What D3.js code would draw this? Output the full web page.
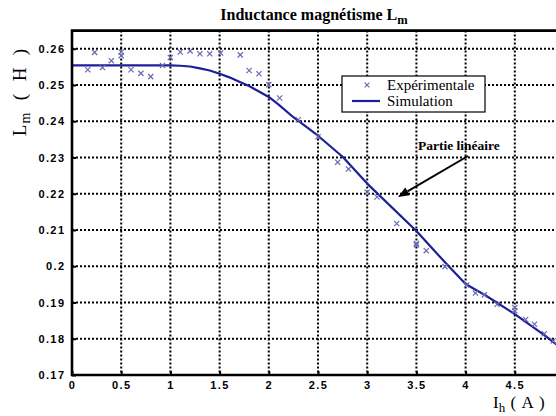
<!DOCTYPE html>
<html>
<head>
<meta charset="utf-8">
<script src="https://cdn.jsdelivr.net/npm/d3@7"></script>
<style>
  html, body { margin: 0; padding: 0; background: #fff; overflow: hidden; }
  svg { display: block; }
</style>
</head>
<body>
<svg id="chart" width="556" height="416"></svg>
<script>
// ---- data ----
const xTicks = [0, 0.5, 1, 1.5, 2, 2.5, 3, 3.5, 4, 4.5, 5];
const xTickLabels = ["0", "0.5", "1", "1.5", "2", "2.5", "3", "3.5", "4", "4.5", "5"];
const yTicks = [0.17, 0.18, 0.19, 0.20, 0.21, 0.22, 0.23, 0.24, 0.25, 0.26];
const yTickLabels = ["0.17", "0.18", "0.19", "0.2", "0.21", "0.22", "0.23", "0.24", "0.25", "0.26"];

const simX = [0, 0.5, 1.0, 1.1, 1.2, 1.3, 1.4, 1.5, 1.6, 1.7, 1.8, 1.9, 2.0, 2.1, 2.25, 2.5, 2.75, 3.0, 3.5, 3.8, 4.0, 4.2, 4.5, 4.8, 5.0];
const simY = [0.2554, 0.2554, 0.2554, 0.2553, 0.2551, 0.2546, 0.2540, 0.2531, 0.2521, 0.2509, 0.2497, 0.2482, 0.2467, 0.2446, 0.2411, 0.2360, 0.2302, 0.2228, 0.2097, 0.2008, 0.1951, 0.1920, 0.1868, 0.1810, 0.1768];

const expX = [0.16, 0.23, 0.31, 0.40, 0.50, 0.50, 0.60, 0.70, 0.80, 0.92, 1.00, 1.10, 1.20, 1.30, 1.40, 1.51, 1.71, 1.80, 1.90, 2.00, 2.11, 2.30, 2.50, 2.70, 2.81, 3.00, 3.10, 3.30, 3.50, 3.50, 3.60, 3.79, 4.01, 4.10, 4.19, 4.32, 4.50, 4.50, 4.61, 4.70, 4.80, 4.89];
const expY = [0.2542, 0.2590, 0.2548, 0.2567, 0.2591, 0.2581, 0.2542, 0.2532, 0.2523, 0.2554, 0.2576, 0.2591, 0.2594, 0.2586, 0.2586, 0.2588, 0.2583, 0.2540, 0.2531, 0.2501, 0.2464, 0.2404, 0.2357, 0.2287, 0.2268, 0.2204, 0.2191, 0.2118, 0.2063, 0.2059, 0.2043, 0.1999, 0.1948, 0.1926, 0.1921, 0.1895, 0.1886, 0.1877, 0.1853, 0.1840, 0.1814, 0.1794];

const legendLabels = ["Expérimentale", "Simulation"];
const annotationText = "Partie linéaire";

// ---- layout ----
const svg = d3.select("#chart");
const L = 72, R = 564, T = 30.6, B = 375;
const x = d3.scaleLinear().domain([0, 5]).range([L, R]);
const y = d3.scaleLinear().domain([0.17, 0.265]).range([B, T]);

const lineColor = "#1e1e9a";
const markColor = "#6a6ab4";
const serif = "'Liberation Serif', 'Times New Roman', serif";
const sans = "'Liberation Sans', Arial, sans-serif";

svg.append("defs").append("clipPath").attr("id", "plotclip")
  .append("rect").attr("x", L).attr("y", T).attr("width", R - L).attr("height", B - T);

// grid
const grid = svg.append("g").attr("stroke", "#000").attr("stroke-width", 2)
  .attr("stroke-dasharray", "2,2");
grid.selectAll("line.vg").data(xTicks.filter(d => d > 0)).join("line")
  .attr("x1", d => x(d)).attr("x2", d => x(d)).attr("y1", T).attr("y2", B);
grid.selectAll("line.hg").data(yTicks.filter(d => d > 0.17)).join("line")
  .attr("x1", L).attr("x2", R).attr("y1", d => y(d)).attr("y2", d => y(d));

// data
const plot = svg.append("g").attr("clip-path", "url(#plotclip)");
const simData = simX.map((d, i) => [d, simY[i]]);
plot.append("path").datum(simData)
  .attr("fill", "none").attr("stroke", lineColor).attr("stroke-width", 2.2)
  .attr("stroke-linejoin", "round")
  .attr("d", d3.line().x(d => x(d[0])).y(d => y(d[1])).curve(d3.curveLinear));

const expData = expX.map((d, i) => [d, expY[i]]);
const s = 2.6;
plot.selectAll("path.mk").data(expData).join("path")
  .attr("class", "mk")
  .attr("fill", "none").attr("stroke", markColor).attr("stroke-width", 1.2)
  .attr("d", d => {
    const cx = x(d[0]), cy = y(d[1]);
    return `M${cx - s},${cy - s}L${cx + s},${cy + s}M${cx - s},${cy + s}L${cx + s},${cy - s}`;
  });

// axes
const xAxis = d3.axisBottom(x).tickValues(xTicks)
  .tickFormat((d, i) => xTickLabels[i]).tickSizeInner(-4).tickSizeOuter(0).tickPadding(6);
const gx = svg.append("g").attr("transform", `translate(0,${B})`).call(xAxis);
const yAxis = d3.axisLeft(y).tickValues(yTicks)
  .tickFormat((d, i) => yTickLabels[i]).tickSizeInner(-4).tickSizeOuter(0).tickPadding(8);
const gy = svg.append("g").attr("transform", `translate(${L},0)`).call(yAxis);
[gx, gy].forEach(g => {
  g.select(".domain").remove();
  g.selectAll(".tick line").attr("stroke", "#000").attr("stroke-width", 2);
  g.selectAll(".tick text").attr("fill", "#000")
    .style("font-family", sans).style("font-weight", "bold")
    .style("font-size", "11px").style("letter-spacing", "1.4px");
});
gy.selectAll(".tick text").attr("dx", "1.4px");

// frame
svg.append("path").attr("fill", "none").attr("stroke", "#000").attr("stroke-width", 2.6)
  .attr("d", `M${R},${T}L${L},${T}L${L},${B}L${R},${B}`);

// title
const title = svg.append("text").attr("x", 314).attr("y", 20).attr("text-anchor", "middle")
  .style("font-family", serif).style("font-weight", "bold").style("font-size", "16px");
title.append("tspan").text("Inductance magnétisme  L");
title.append("tspan").attr("dy", 4).style("font-size", "12.5px").text("m");

// y label
const yl = svg.append("text").attr("transform", "translate(26,92) rotate(-90)")
  .attr("text-anchor", "middle").style("font-family", serif).style("font-size", "19px")
  .style("letter-spacing", "1px").style("white-space", "pre").attr("xml:space", "preserve");
yl.append("tspan").text("L");
yl.append("tspan").attr("dy", 4).style("font-size", "14px").text("m");
yl.append("tspan").attr("dy", -4).text("  (  H  )");

// x label
const xl = svg.append("text").attr("x", 493).attr("y", 408)
  .style("font-family", serif).style("font-size", "17px");
xl.append("tspan").text("I");
xl.append("tspan").attr("dy", 4).style("font-size", "13px").text("h");
xl.append("tspan").attr("dy", -4).style("letter-spacing", "1px").text("  ( A )");

// legend
const lg = svg.append("g");
lg.append("rect").attr("x", 342).attr("y", 76).attr("width", 143).attr("height", 36)
  .attr("fill", "#fff").attr("stroke", "#000").attr("stroke-width", 1.2);
const ls = 2.4;
lg.append("path").attr("fill", "none").attr("stroke", markColor).attr("stroke-width", 1.2)
  .attr("d", `M${367 - ls},${85 - ls}L${367 + ls},${85 + ls}M${367 - ls},${85 + ls}L${367 + ls},${85 - ls}`);
lg.append("line").attr("x1", 352).attr("x2", 380).attr("y1", 101).attr("y2", 101)
  .attr("stroke", lineColor).attr("stroke-width", 2.2);
lg.selectAll("text").data(legendLabels).join("text")
  .attr("x", 387).attr("y", (d, i) => 90 + i * 15.5)
  .style("font-family", serif).style("font-size", "15px").text(d => d);

// annotation
svg.append("text").attr("x", 418).attr("y", 150)
  .style("font-family", serif).style("font-weight", "bold").style("font-size", "13.5px")
  .text(annotationText);
const ax1 = 468, ay1 = 156, ax2 = 398, ay2 = 197;
const ang = Math.atan2(ay2 - ay1, ax2 - ax1);
const hl = 11, hw = 4.5;
const bx = ax2 - hl * Math.cos(ang), by = ay2 - hl * Math.sin(ang);
svg.append("line").attr("x1", ax1).attr("y1", ay1).attr("x2", bx).attr("y2", by)
  .attr("stroke", "#000").attr("stroke-width", 2);
svg.append("path").attr("fill", "#000")
  .attr("d", `M${ax2},${ay2}L${bx + hw * Math.sin(ang)},${by - hw * Math.cos(ang)}L${bx - hw * Math.sin(ang)},${by + hw * Math.cos(ang)}Z`);
</script>
</body>
</html>
